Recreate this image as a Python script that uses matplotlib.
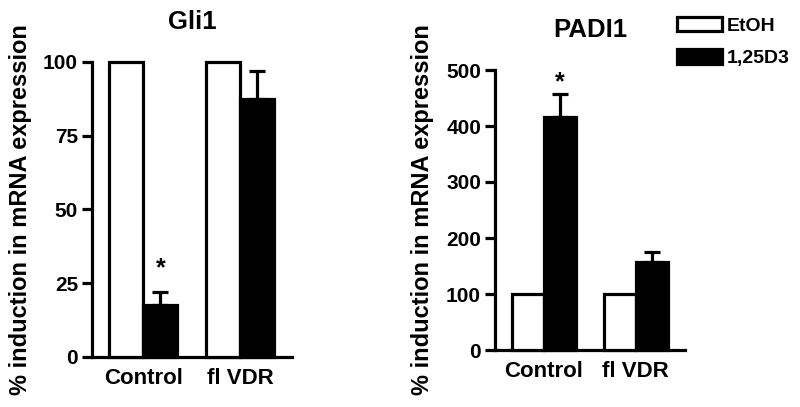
import numpy as np
import matplotlib.pyplot as plt
from matplotlib.patches import Patch

plt.rcParams['font.family'] = ['Liberation Sans', 'DejaVu Sans']
plt.rcParams['font.weight'] = 'bold'

# Data
groups = ["Control", "fl VDR"]
series = ["EtOH", "1,25D3"]

gli1_etoh = [100, 100]
gli1_d3 = [17.5, 87.5]
gli1_d3_err = [4.5, 9.5]

padi1_etoh = [100, 100]
padi1_d3 = [416, 157]
padi1_d3_err = [41, 18]

ylabel = "% induction in mRNA expression"

fig = plt.figure(figsize=(8, 4.07), dpi=100)
ax1 = fig.add_axes([92/800, 50/407, 200/800, 295/407])
ax2 = fig.add_axes([495/800, 57/407, 190/800, 280/407])

x = np.arange(len(groups))
w = 0.35
lw = 2.3


def draw(ax, etoh, d3, err, ymax, yticks, title, star_y, labelpad):
    ax.bar(x - w/2, etoh, w, color="white", edgecolor="black", linewidth=lw, clip_on=False, zorder=3)
    ax.bar(x + w/2, d3, w, color="black", edgecolor="black", linewidth=lw, clip_on=False, zorder=3)
    ax.errorbar(x + w/2, d3, yerr=[np.zeros(len(err)), err], fmt="none", ecolor="black",
                elinewidth=lw, capsize=5.5, capthick=lw, clip_on=False, zorder=2)
    ax.set_xlim(-0.53, 1.535)
    ax.set_ylim(0, ymax)
    ax.set_yticks(yticks)
    ax.set_xticks(x)
    ax.set_xticklabels(groups, fontsize=16, fontweight="bold")
    ax.tick_params(axis="x", length=0, pad=8)
    ax.tick_params(axis="y", length=7, width=lw, labelsize=15, pad=3)
    for lab in ax.get_yticklabels():
        lab.set_fontweight("bold")
    for s in ["top", "right"]:
        ax.spines[s].set_visible(False)
    for s in ["left", "bottom"]:
        ax.spines[s].set_linewidth(lw)
    ax.set_title(title, fontsize=18.5, fontweight="bold", pad=24)
    ax.set_ylabel(ylabel, fontsize=17, fontweight="bold", labelpad=labelpad)
    ax.text(x[0] + w/2, star_y, "*", ha="center", va="center", fontsize=18, fontweight="bold")


draw(ax1, gli1_etoh, gli1_d3, gli1_d3_err, 100, [0, 25, 50, 75, 100], "Gli1", 30, 8)
draw(ax2, padi1_etoh, padi1_d3, padi1_d3_err, 500, [0, 100, 200, 300, 400, 500], "PADI1", 478, 9)

handles = [Patch(facecolor="white", edgecolor="black", linewidth=lw),
           Patch(facecolor="black", edgecolor="black", linewidth=lw)]
fig.legend(handles, series, loc="upper left", bbox_to_anchor=(677/800, 1 - 17/407),
           frameon=False, handlelength=2.3, handleheight=0.75,
           handletextpad=0.25, labelspacing=0.75, borderpad=0, borderaxespad=0,
           prop={"weight": "bold", "size": 14})

fig.savefig("out.png", dpi=100)
